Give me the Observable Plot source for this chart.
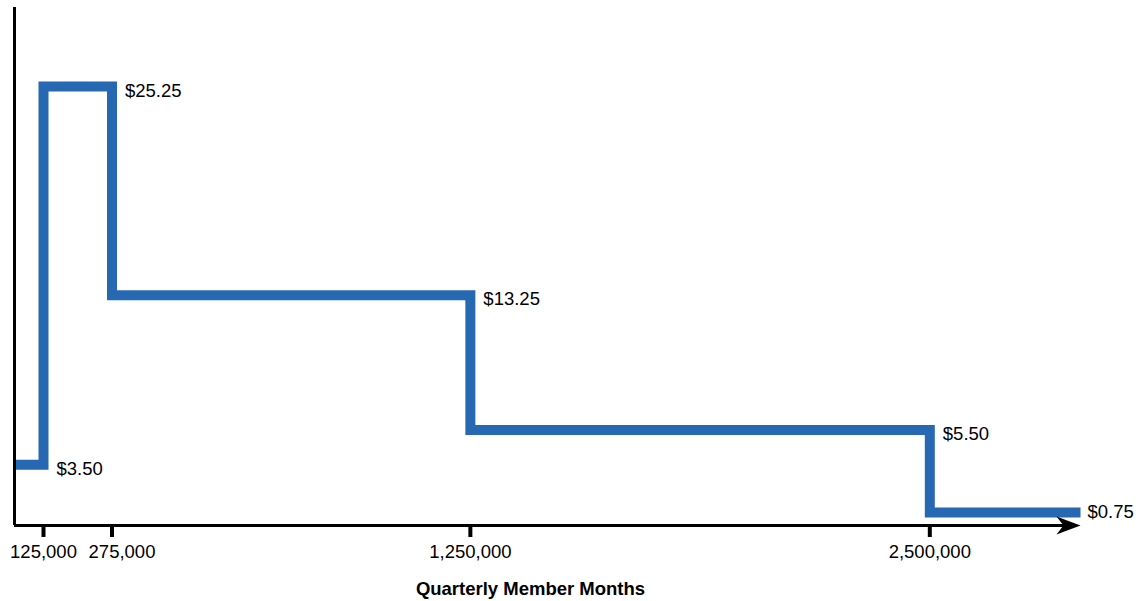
<!DOCTYPE html>
<html>
<head>
<meta charset="utf-8">
<script src="https://cdn.jsdelivr.net/npm/d3@7"></script>
<script src="https://cdn.jsdelivr.net/npm/@observablehq/plot@0.6"></script>
<style>
  html, body { margin: 0; padding: 0; background: #ffffff; }
  .tier-line path { stroke-linejoin: miter !important; stroke-miterlimit: 10; }
</style>
</head>
<body>
<div id="chart"></div>
<script>
// Data
const breaks = [0, 125000, 275000, 1250000, 2500000];   // start of each price tier
const prices = [3.50, 25.25, 13.25, 5.50, 0.75];        // price for each tier
const xEnd = 2910000;                                     // end of the axis (arrow tip)
const tickValues = [125000, 275000, 1250000, 2500000];
const shiftedTick = 275000;                               // label nudged right to avoid overlap
const xLabel = "Quarterly Member Months";

const steps = breaks.map((b, i) => ({x: b, price: prices[i]}))
  .concat([{x: xEnd, price: prices[prices.length - 1]}]);
const labels = prices.map((p, i) => ({
  x: i < breaks.length - 1 ? breaks[i + 1] : xEnd,
  price: p,
  text: "$" + p.toFixed(2)
}));

const arrowHead = {
  draw(ctx) {
    ctx.moveTo(0, 0);
    ctx.lineTo(-24, -9);
    ctx.lineTo(-17, 0);
    ctx.lineTo(-24, 9);
    ctx.closePath();
  }
};

const fmt = d3.format(",");

const chart = Plot.plot({
  width: 1141,
  height: 601,
  marginTop: 7,
  marginBottom: 76,
  marginLeft: 0,
  marginRight: 81,
  style: {fontFamily: "'Liberation Sans', Arial, Helvetica, sans-serif", fontSize: "18px", background: "#ffffff", color: "#000"},
  x: {type: "linear", domain: [0, 125000, 275000, xEnd], range: [14, 43, 111.5, 1080]},
  y: {domain: [0, 29.8], axis: null},
  marks: [
    Plot.line(steps, {x: "x", y: "price", curve: "step-after", stroke: "#2768b3", strokeWidth: 10, strokeLinejoin: "miter", strokeMiterlimit: 10, strokeLinecap: "butt", className: "tier-line"}),
    Plot.ruleX([0], {stroke: "#000", strokeWidth: 3}),
    Plot.ruleY([0], {x1: 0, x2: xEnd, insetRight: 16, stroke: "#000", strokeWidth: 3}),
    Plot.dot([xEnd], {x: d => d, y: 0, symbol: arrowHead, fill: "#000", stroke: null}),
    Plot.axisX(tickValues, {anchor: "bottom", tickSize: 12, strokeWidth: 4, tickPadding: 7, fontSize: 18.5, label: null,
      tickFormat: v => v === shiftedTick ? "" : fmt(v)}),
    Plot.axisX([shiftedTick], {anchor: "bottom", tickSize: 0, tickPadding: 19, fontSize: 18.5, label: null, dx: 10, tickFormat: fmt}),
    Plot.text(labels.slice(0, 4), {x: "x", y: "price", text: "text", textAnchor: "start", dx: 13, dy: 4, fontSize: 18.5, fill: "#000"}),
    Plot.text(labels.slice(4), {x: "x", y: "price", text: "text", textAnchor: "start", dx: 7, dy: 0, fontSize: 18.5, fill: "#000"}),
    Plot.text([xLabel], {frameAnchor: "bottom", lineAnchor: "middle", dy: 64, text: d => d, fontWeight: "bold", fontSize: 18.5, fill: "#000"})
  ]
});
document.getElementById("chart").append(chart);
</script>
</body>
</html>
